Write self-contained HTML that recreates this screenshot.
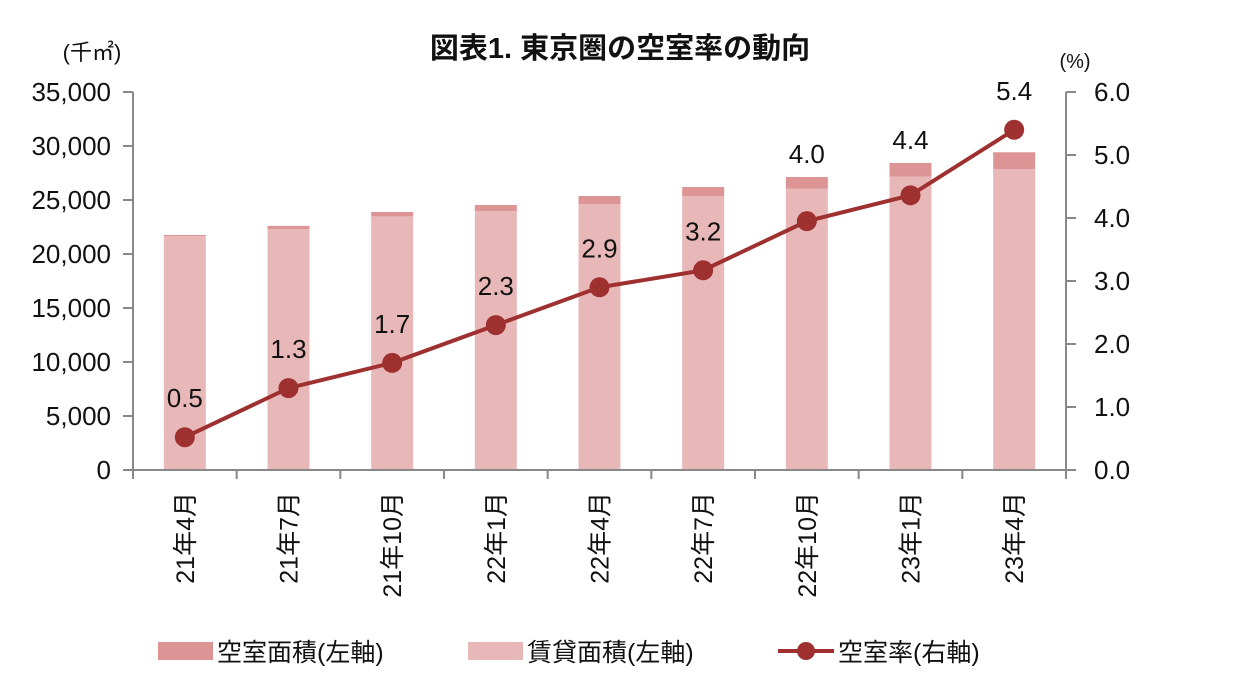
<!DOCTYPE html>
<html><head><meta charset="utf-8"><style>
body{margin:0;background:#fff;}
svg text{font-family:"Liberation Sans","Noto Sans CJK JP",sans-serif;fill:#111;}
</style></head><body>
<svg id="chart" width="1240" height="682" viewBox="0 0 1240 682" xmlns="http://www.w3.org/2000/svg">
<text x="620" y="58" text-anchor="middle" font-size="29" font-weight="bold">図表1.  東京圏の空室率の動向</text>
<text x="92" y="60" text-anchor="middle" font-size="22">(千㎡)</text>
<text x="1075" y="68" text-anchor="middle" font-size="20">(%)</text>
<g id="gBars"></g><g id="gAxes"></g><g id="gLine"></g>
<g>
<rect x="158" y="642" width="55" height="18" fill="#dc9494"/>
<text x="217" y="661" font-size="25">空室面積(左軸)</text>
<rect x="468" y="642" width="55" height="18" fill="#e8b8b8"/>
<text x="527" y="661" font-size="25">賃貸面積(左軸)</text>
<line x1="778" y1="651" x2="834" y2="651" stroke="#9e3030" stroke-width="4"/>
<circle cx="806" cy="651" r="9" fill="#9e3030"/>
<text x="838" y="661" font-size="25">空室率(右軸)</text>
</g>
</svg>
<script>
const categories=["21年4月","21年7月","21年10月","22年1月","22年4月","22年7月","22年10月","23年1月","23年4月"];
const rented=[21650,22300,23480,23970,24630,25360,26040,27170,27870];
const vacant=[110,300,410,570,740,840,1090,1260,1550];
const rate=[0.52,1.3,1.7,2.3,2.9,3.17,3.95,4.36,5.4];
const rateLabels=["0.5","1.3","1.7","2.3","2.9","3.2","4.0","4.4","5.4"];
const labelAboveBar=[false,false,false,false,false,false,true,true,false];
const leftTicks=[0,5000,10000,15000,20000,25000,30000,35000];
const rightTicks=[0,1,2,3,4,5,6];
const NS="http://www.w3.org/2000/svg";
const X0=133,X1=1066,Y0=470,Y1=92;
const band=(X1-X0)/categories.length;
const xC=i=>X0+band*(i+0.5);
const yL=v=>Y0-(v/35000)*(Y0-Y1);
const yR=v=>Y0-(v/6)*(Y0-Y1);
function mk(tag,attrs,parent,txt){const e=document.createElementNS(NS,tag);for(const k in attrs)e.setAttribute(k,attrs[k]);if(txt!==undefined)e.textContent=txt;parent.appendChild(e);return e;}
const gB=document.getElementById('gBars'),gA=document.getElementById('gAxes'),gL=document.getElementById('gLine');
const bw=42;
categories.forEach((c,i)=>{
 const r=mk('rect',{x:xC(i)-bw/2,y:yL(rented[i]),width:bw,height:Y0-yL(rented[i]),fill:'#e8b8b8'},gB);
 
 
 const v=mk('rect',{x:xC(i)-bw/2,y:yL(rented[i]+vacant[i]),width:bw,height:yL(rented[i])-yL(rented[i]+vacant[i]),fill:'#dc9494'},gB);
 
 
});
const st={stroke:'#888','stroke-width':2};
const la=mk('line',Object.assign({x1:X0,y1:Y1,x2:X0,y2:Y0},st),gA);


const ra=mk('line',Object.assign({x1:X1,y1:Y1,x2:X1,y2:Y0},st),gA);


const xa=mk('line',Object.assign({x1:X0-10,y1:Y0,x2:X1+10,y2:Y0},st),gA);


leftTicks.forEach(t=>{
 mk('line',Object.assign({x1:X0-10,y1:yL(t),x2:X0,y2:yL(t)},st),gA);
 const tx=mk('text',{x:X0-22,y:yL(t)+9,'text-anchor':'end','font-size':26},gA,t.toLocaleString('en-US'));
 
 
});
rightTicks.forEach(t=>{
 mk('line',Object.assign({x1:X1,y1:yR(t),x2:X1+10,y2:yR(t)},st),gA);
 const tx=mk('text',{x:X1+28,y:yR(t)+9,'font-size':26},gA,t.toFixed(1));
 
 
});
for(let i=0;i<=categories.length;i++)mk('line',Object.assign({x1:X0+band*i,y1:Y0,x2:X0+band*i,y2:Y0+9},st),gA);
categories.forEach((c,i)=>{
 const tx=mk('text',{x:0,y:0,'text-anchor':'end','font-size':25,transform:`translate(${xC(i)+9},${Y0+22}) rotate(-90)`},gA,c);
 
 
});
const pts=rate.map((r,i)=>xC(i)+','+yR(r)).join(' ');
const pl=mk('polyline',{points:pts,fill:'none',stroke:'#9e3030','stroke-width':4},gL);


rate.forEach((r,i)=>{
 const c=mk('circle',{cx:xC(i),cy:yR(r),r:10,fill:'#9e3030'},gL);
 
 
 let ly=yR(r)-30;
 if(labelAboveBar[i])ly=Math.min(ly,yL(rented[i]+vacant[i])-14);
 const t=mk('text',{x:xC(i),y:ly,'text-anchor':'middle','font-size':26},gL,rateLabels[i]);
 
 
});
</script>
</body></html>
